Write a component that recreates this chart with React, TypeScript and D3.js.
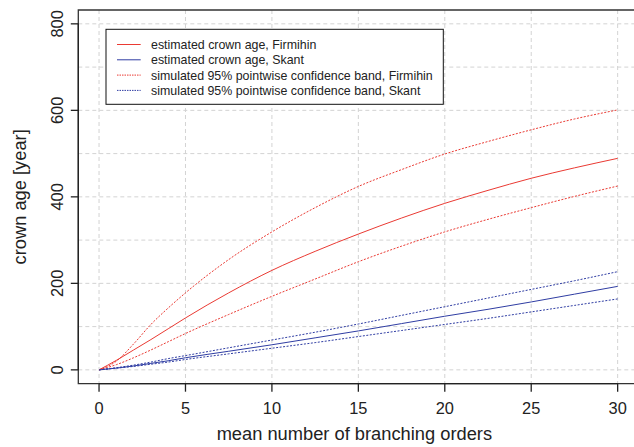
import React from "react";
import * as d3 from "d3";

const xs = [0, 1, 2, 3, 4, 5, 7.5, 10, 12.5, 15, 17.5, 20, 22.5, 25, 27.5, 30];
const firmihinEst = [0, 22, 46, 70, 95, 120, 178, 230, 274, 314, 351, 385, 415, 443, 467, 489];
const firmihinUpper = [0, 20, 60, 105, 143, 178, 255, 319, 375, 424, 463, 499, 528, 555, 580, 601];
const firmihinLower = [0, 12, 28, 46, 65, 84, 128, 170, 210, 250, 286, 319, 348, 375, 401, 425];
const skantEst = [0, 4, 9, 15, 21, 28, 43, 58, 74, 90, 107, 124, 140, 157, 175, 193];
const skantUpper = [0, 5, 11, 18, 26, 33, 51, 69, 87, 106, 126, 146, 166, 186, 206, 227];
const skantLower = [0, 4, 8, 13, 18, 24, 37, 50, 63, 77, 91, 105, 119, 134, 149, 164];

const xTicks = [0, 5, 10, 15, 20, 25, 30];
const yTicks = [0, 200, 400, 600, 800];
const yGrid = [0, 100, 200, 300, 400, 500, 600, 700, 800];

const legendLabels = [
  "estimated crown age, Firmihin",
  "estimated crown age, Skant",
  "simulated 95% pointwise confidence band, Firmihin",
  "simulated 95% pointwise confidence band, Skant",
];

const RED = "#ea3a33";
const BLUE = "#2f3da3";
const FONT = "'Liberation Sans', Arial, Helvetica, sans-serif";

export default function App() {
  const W = 634;
  const H = 447;
  const x = d3.scaleLinear().domain([-1.2, 31.2]).range([78.3, 638.4]);
  const y = d3.scaleLinear().domain([-32, 832]).range([383.7, 10]);

  const line = (vals: number[]) =>
    d3
      .line<number>()
      .x((_, i) => x(xs[i]))
      .y((v) => y(v))
      .curve(d3.curveMonotoneX)(vals) || "";

  const series = [
    { vals: firmihinUpper, color: RED, dash: "2 1.5" },
    { vals: firmihinLower, color: RED, dash: "2 1.5" },
    { vals: skantUpper, color: BLUE, dash: "2 1.5" },
    { vals: skantLower, color: BLUE, dash: "2 1.5" },
    { vals: firmihinEst, color: RED, dash: undefined },
    { vals: skantEst, color: BLUE, dash: undefined },
  ];

  const legendStyles = [
    { color: RED, dash: undefined },
    { color: BLUE, dash: undefined },
    { color: RED, dash: "1.5 1" },
    { color: BLUE, dash: "1.5 1" },
  ];

  const x0 = x.range()[0];
  const yb = y.range()[0];
  const yt = y.range()[1];

  return (
    <svg
      width={W}
      height={H}
      style={{ position: "absolute", left: 0, top: 0, background: "#fff" }}
      fontFamily={FONT}
    >
      <rect x={0} y={0} width={W} height={H} fill="#fff" />
      {/* grid */}
      {xTicks.map((t) => (
        <line
          key={"gx" + t}
          x1={x(t)}
          x2={x(t)}
          y1={yt}
          y2={yb}
          stroke="#d3d3d3"
          strokeDasharray="4 3"
        />
      ))}
      {yGrid.map((t) => (
        <line
          key={"gy" + t}
          x1={x0}
          x2={W}
          y1={y(t)}
          y2={y(t)}
          stroke="#d3d3d3"
          strokeDasharray="4 3"
        />
      ))}
      {/* series */}
      {series.map((s, i) => (
        <path
          key={i}
          d={line(s.vals)}
          fill="none"
          stroke={s.color}
          strokeWidth={1}
          strokeDasharray={s.dash}
        />
      ))}
      {/* box */}
      <path
        d={`M${W + 5},${yt}H${x0}V${yb}H${W + 5}`}
        fill="none"
        stroke="#333"
        strokeWidth={1.3}
      />
      {/* x axis */}
      <line x1={x(0)} x2={x(30)} y1={yb} y2={yb} stroke="#222" strokeWidth={1.3} />
      {xTicks.map((t) => (
        <g key={"xt" + t}>
          <line x1={x(t)} x2={x(t)} y1={yb} y2={yb + 8} stroke="#222" strokeWidth={1.3} />
          <text
            x={x(t)}
            y={414}
            textAnchor="middle"
            fontSize={16.4}
            fill="#222"
          >
            {t}
          </text>
        </g>
      ))}
      {/* y axis */}
      <line x1={x0} x2={x0} y1={y(0)} y2={y(800)} stroke="#222" strokeWidth={1.3} />
      {yTicks.map((t) => (
        <g key={"yt" + t}>
          <line x1={x0 - 7.5} x2={x0} y1={y(t)} y2={y(t)} stroke="#222" strokeWidth={1.3} />
          <text
            transform={`translate(62.5,${y(t)}) rotate(-90)`}
            textAnchor="middle"
            fontSize={16.4}
            fill="#222"
          >
            {t}
          </text>
        </g>
      ))}
      {/* axis titles */}
      <text x={x(15) - 4} y={440} textAnchor="middle" fontSize={18.3} fill="#222">
        mean number of branching orders
      </text>
      <text
        transform={`translate(26,${(y(0) + y(800)) / 2}) rotate(-90)`}
        textAnchor="middle"
        fontSize={18.3}
        fill="#222"
      >
        crown age [year]
      </text>
      {/* legend */}
      <rect x={106} y={29.3} width={337.3} height={75} fill="#fff" stroke="#111" strokeWidth={1} />
      {legendLabels.map((lab, i) => {
        const cy = 44.5 + i * 15.3;
        const st = legendStyles[i];
        return (
          <g key={"lg" + i}>
            <line
              x1={117}
              x2={140.7}
              y1={cy}
              y2={cy}
              stroke={st.color}
              strokeWidth={1}
              strokeDasharray={st.dash}
            />
            <text x={151} y={cy + 4.4} fontSize={12.4} fill="#222">
              {lab}
            </text>
          </g>
        );
      })}
    </svg>
  );
}
